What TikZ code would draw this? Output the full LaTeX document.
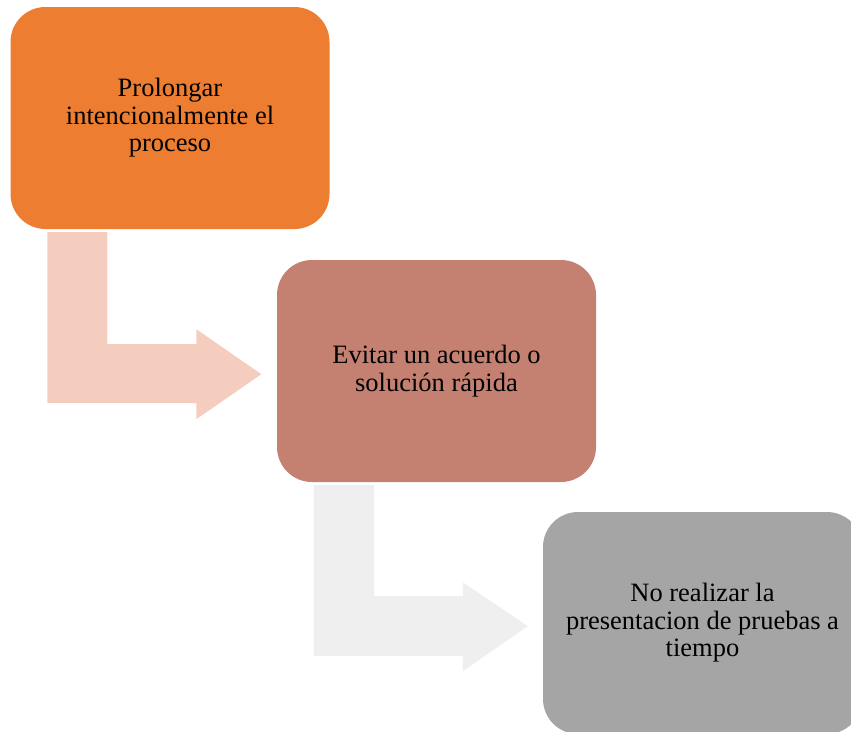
\documentclass[tikz,border=0pt]{standalone}
\usepackage{fontspec}
\setmainfont{Liberation Serif}
\usetikzlibrary{calc}

\definecolor{stepOrange}{HTML}{ED7D31}
\definecolor{stepRose}{HTML}{C48070}
\definecolor{stepGray}{HTML}{A5A5A5}
\definecolor{arrowPeach}{HTML}{F5CDBF}
\definecolor{arrowGray}{HTML}{EFEFEF}

\tikzset{
    stepbox/.style={rectangle, rounded corners=35pt, minimum width=319pt,
        minimum height=222pt, inner sep=0pt, align=center,
        font=\fontsize{26.5}{27.5}\selectfont},
}

\begin{document}
\begin{tikzpicture}[x=1pt, y=-1pt]
    % Page frame
    \path[use as bounding box] (0,0) rectangle (851,731);
    \clip (0,0) rectangle (851,731);

    % The three steps
    \node[stepbox, fill=stepOrange] (prolongar) at (170,118)
        {Prolongar\\intencionalmente el\\proceso};
    \node[stepbox, fill=stepRose] (evitar) at (436.5,371)
        {Evitar un acuerdo o\\solución rápida};
    \node[stepbox, fill=stepGray] (pruebas) at (702.5,623)
        {No realizar la\\presentacion de pruebas a\\tiempo};

    % Bent arrows between the steps
    \coordinate (arrowA) at ($(prolongar.south west)+(37,3)$);
    \coordinate (arrowB) at ($(evitar.south west)+(37,3)$);
    \fill[arrowPeach] (arrowA) -- ++(60,0) -- ++(0,112) -- ++(89,0) -- ++(0,-15)
        -- ++(65,45) -- ++(-65,45) -- ++(0,-16) -- ++(-149,0) -- cycle;
    \fill[arrowGray] (arrowB) -- ++(60,0) -- ++(0,111) -- ++(89,0) -- ++(0,-14)
        -- ++(65,44) -- ++(-65,45) -- ++(0,-15) -- ++(-149,0) -- cycle;

\end{tikzpicture}
\end{document}
